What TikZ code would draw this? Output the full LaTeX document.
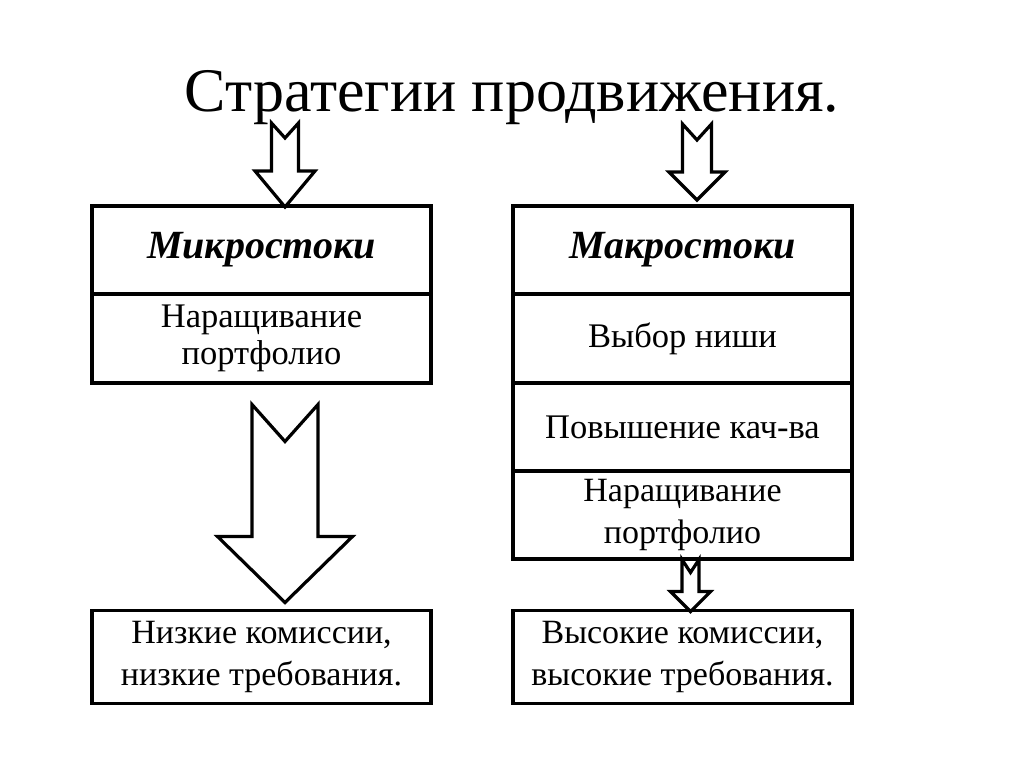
\documentclass[tikz,border=0pt]{standalone}
\usepackage{fontspec}
\setmainfont{Liberation Serif}
\usetikzlibrary{positioning}
\usetikzlibrary{calc}
\tikzset{
	cell/.style={draw, rectangle, line width=3.2pt, minimum width=339pt, minimum height=88pt, inner sep=0pt, outer sep=0pt, align=center, font=\fontsize{34.5}{37}\selectfont},
	wide/.style={font=\fontsize{34}{42}\selectfont},
	head/.style={font=\fontsize{40}{44}\selectfont\bfseries\itshape},
	blk/.style={draw, line width=3.2pt, line join=miter}
}

\begin{document}
\begin{tikzpicture}[x=1pt, y=-1pt]
	\useasboundingbox (0,0) rectangle (1024,767);
	\node[anchor=base, font=\fontsize{62}{66}\selectfont] (title) at (512,112) {Стратегии продвижения.};
	\node[cell, head] (mikro) at (261.5,250) {Микростоки};
	\node[cell, minimum height=89pt, below=0pt of mikro] (mnar) {Наращивание\\портфолио};
	\node[cell, head] (makro) at (682.5,250) {Макростоки};
	\node[cell, minimum height=89pt, below=0pt of makro] (vybor) {Выбор ниши};
	\node[cell, below=0pt of vybor] (povysh) {Повышение кач-ва};
	\node[cell, wide, below=0pt of povysh] (narash) {Наращивание\\портфолио};
	\node[cell, wide, minimum height=93pt] (nizk) at (261.5,657) {Низкие комиссии,\\низкие требования.};
	\node[cell, wide, minimum height=93pt] (vysok) at (682.5,657) {Высокие комиссии,\\высокие требования.};
	\coordinate (t1) at ($(mikro.north)+(23.5,1)$);
	\coordinate (t2) at ($(makro.north)+(14.5,-6)$);
	\coordinate (t3) at ($(nizk.north)+(23.5,-8)$);
	\coordinate (t4) at ($(vysok.north)+(8,1)$);
	\foreach \tip/\len/\sh/\hw/\hl/\nt in {t1/84/13.5/30/36/15, t2/76/14.5/28/28/16, t3/198/33/67.5/66/37, t4/52/8.5/20/20/13}{
		\draw[blk] ($(\tip)+(-\sh,-\len)$) -- ($(\tip)+(0,-\len+\nt)$) -- ($(\tip)+(\sh,-\len)$)
			-- ($(\tip)+(\sh,-\hl)$) -- ($(\tip)+(\hw,-\hl)$) -- (\tip)
			-- ($(\tip)+(-\hw,-\hl)$) -- ($(\tip)+(-\sh,-\hl)$) -- cycle;
	}
\end{tikzpicture}
\end{document}
